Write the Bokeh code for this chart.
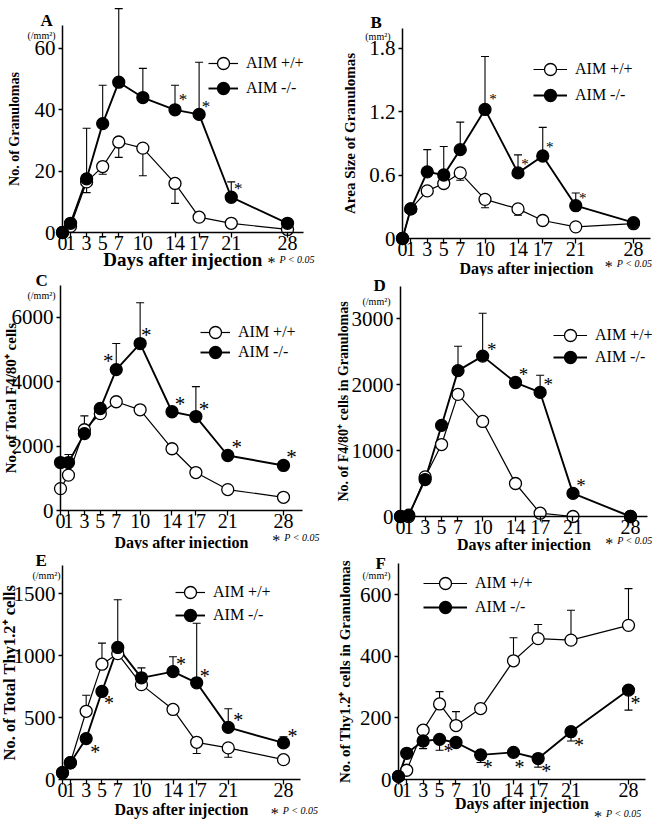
from bokeh.plotting import figure
from bokeh.layouts import row, column
from bokeh.models import (Range1d, FixedTicker, Legend, LegendItem, Whisker, TeeHead,
                          ColumnDataSource, Label)
from bokeh.core.properties import value
from bokeh.embed import file_html
from bokeh.resources import INLINE

SERIF = "Liberation Serif"

# ---------------- data ----------------
days = [0, 1, 3, 5, 7, 10, 14, 17, 21, 28]
day_labels = ["0", "1", "3", "5", "7", "10", "14", "17", "21", "28"]
series_names = ["AIM +/+", "AIM -/-"]
x_title = "Days after injection"
p_note = "P < 0.05"

# A: No. of granulomas
a_wt = [0, 2, 16.5, 21.5, 29.5, 27.5, 16, 5, 3, 1]
a_wt_err = [None, None, 13, 19, 24.5, 18.5, 9.5, None, None, None]
a_ko = [0, 3, 17.5, 35.5, 49, 44, 40, 38.5, 11.5, 3]
a_ko_err = [None, None, 34, 48, 73, 53.5, 48, 55.5, 16.5, None]
a_sig = [14, 17, 21]
a_yticks = [0, 20, 40, 60]
a_ytick_labels = ["0", "20", "40", "60"]

# B: Area size of granulomas
b_wt = [0, 0.28, 0.45, 0.52, 0.62, 0.37, 0.28, 0.17, 0.11, 0.14]
b_wt_err = [None, None, None, None, 0.55, 0.29, 0.22, None, None, None]
b_ko = [0, 0.28, 0.63, 0.60, 0.84, 1.22, 0.62, 0.78, 0.31, 0.15]
b_ko_err = [None, None, 0.84, 0.87, 1.10, 1.72, 0.79, 1.05, 0.43, None]
b_sig = [10, 14, 17, 21]
b_yticks = [0, 0.6, 1.2, 1.8]
b_ytick_labels = ["0", "0.6", "1.2", "1.8"]

# C: Total F4/80+ cells
c_wt = [680, 1100, 2510, 3010, 3380, 3130, 1920, 1180, 650, 410]
c_wt_err = [None, None, 2940, None, None, None, None, None, None, None]
c_ko = [1490, 1490, 2390, 3170, 4380, 5190, 3070, 2920, 1710, 1400]
c_ko_err = [None, 1740, None, None, 5190, 6460, None, 3850, None, None]
c_sig = [7, 10, 14, 17, 21, 28]
c_yticks = [0, 2000, 4000, 6000]
c_ytick_labels = ["0", "2000", "4000", "6000"]

# D: F4/80+ cells in granulomas
d_wt = [0, 0, 600, 1090, 1850, 1440, 500, 50, 0, 0]
d_wt_err = [None] * 10
d_ko = [0, 20, 560, 1380, 2210, 2430, 2030, 1880, 350, 0]
d_ko_err = [None, None, None, None, 2580, 3080, None, 2140, None, None]
d_sig = [10, 14, 17, 21]
d_yticks = [0, 1000, 2000, 3000]
d_ytick_labels = ["0", "1000", "2000", "3000"]

# E: Total Thy1.2+ cells
e_wt = [55, 135, 550, 930, 1015, 765, 565, 300, 255, 160]
e_wt_err = [None, None, 680, 1100, None, None, None, 210, 180, None]
e_ko = [55, 135, 330, 710, 1065, 820, 870, 780, 420, 295]
e_ko_err = [None, None, None, None, 1450, 900, 990, 1260, 570, 345]
e_sig = [3, 5, 14, 17, 21, 28]
e_yticks = [0, 500, 1000, 1500]
e_ytick_labels = ["0", "500", "1000", "1500"]

# F: Thy1.2+ cells in granulomas
f_wt = [10, 30, 160, 245, 175, 230, 385, 457, 452, 500]
f_wt_err = [None, None, None, 285, 220, None, 460, 503, 549, 619]
f_ko = [10, 85, 125, 130, 120, 80, 88, 68, 155, 290]
f_ko_err = [None, None, 100, 95, None, 55, None, 40, 125, 225]
f_sig = [5, 10, 14, 17, 21, 28]
f_yticks = [0, 200, 400, 600]
f_ytick_labels = ["0", "200", "400", "600"]


def add_err(p, vals, errs):
    bx, lo, hi = [], [], []
    for x, v, e in zip(days, vals, errs):
        if e is None:
            continue
        bx.append(x)
        lo.append(min(v, e))
        hi.append(max(v, e))
    if not bx:
        return
    src = ColumnDataSource(dict(base=bx, lower=lo, upper=hi))
    w = Whisker(source=src, base="base", lower="lower", upper="upper",
                line_color="black", line_width=1.1, level="underlay",
                upper_head=TeeHead(size=8, line_width=1.1, line_color="black"),
                lower_head=TeeHead(size=8, line_width=1.1, line_color="black"))
    p.add_layout(w)


def panel(letter, ylabel, unit, yticks, ytick_labels, wt, wt_err, ko, ko_err, sig, g):
    # geometry (page pixels) -> data ranges, so that the whole canvas is the frame
    figL, figT, W, H = g["box"]
    ax, zy, ppd, ppu = g["ax"], g["zy"], g["ppd"], g["ppu"]
    x_range = Range1d((figL - ax) / ppd, (figL + W - ax) / ppd)
    y_range = Range1d(-(figT + H - zy) / ppu, (zy - figT) / ppu)
    x_end = (g["xend"] - ax) / ppd
    y_top = (zy - g["ytop"]) / ppu

    p = figure(width=W, height=H, x_range=x_range, y_range=y_range,
               output_backend="svg", toolbar_location=None,
               min_border_left=0, min_border_right=0,
               min_border_top=0, min_border_bottom=0)
    p.title.visible = False
    p.outline_line_color = None
    p.grid.visible = False

    for axis in (p.xaxis[0], p.yaxis[0]):
        axis.fixed_location = 0
        axis.axis_line_color = "black"
        axis.axis_line_width = 1.5
        axis.major_tick_line_color = "black"
        axis.major_tick_line_width = 1.3
        axis.major_tick_in = 0
        axis.minor_tick_line_color = None
        axis.major_label_text_font = SERIF
        axis.major_label_text_color = "black"
        axis.axis_label_text_font = SERIF
        axis.axis_label_text_font_style = "bold"
        axis.axis_label_text_color = "black"
    xa, ya = p.xaxis[0], p.yaxis[0]
    xa.bounds = (0, x_end)
    xa.ticker = FixedTicker(ticks=days)
    xa.major_label_overrides = {d: l for d, l in zip(days, day_labels)}
    xa.major_tick_out = 5
    xa.major_label_standoff = -2
    xa.major_label_text_font_size = "20px"
    xa.axis_label = x_title
    xa.axis_label_text_font_size = g["xfs"]
    xa.axis_label_standoff = g["xs"]
    ya.bounds = (0, y_top)
    ya.ticker = FixedTicker(ticks=yticks)
    ya.major_label_overrides = {t: l for t, l in zip(yticks, ytick_labels)}
    ya.major_tick_out = 4
    ya.major_label_standoff = 3
    ya.major_label_text_font_size = "21px"
    ya.axis_label = ylabel
    ya.axis_label_text_font_size = g["yfs"]
    ya.axis_label_standoff = g["ys"]

    add_err(p, wt, wt_err)
    add_err(p, ko, ko_err)

    lw = p.line(days, wt, line_color="black", line_width=1.2)
    lk = p.line(days, ko, line_color="black", line_width=1.9)
    sw = p.scatter(days, wt, marker="circle", size=12, fill_color="white",
                   line_color="black", line_width=1.3)
    sk = p.scatter(days, ko, marker="circle", size=12, fill_color="black",
                   line_color="black", line_width=1.3)

    # significance asterisks (attached to the AIM -/- points)
    ko_map = dict(zip(days, ko))
    fs = g["afs"]
    p.text(x=list(sig), y=[ko_map[d] for d in sig], text=["*"] * len(sig),
           x_offset=[o[0] for o in g["aoff"]], y_offset=[-o[1] for o in g["aoff"]],
           text_font=value(SERIF), text_font_size=f"{fs}px", text_color="black",
           text_align="center", text_baseline="alphabetic")

    # legend: one Legend per row so each row sits where the reference has it
    lx, r1, r2 = g["leg"]
    for item, rc in ((LegendItem(label=series_names[0], renderers=[lw, sw]), r1),
                     (LegendItem(label=series_names[1], renderers=[lk, sk]), r2)):
        p.add_layout(Legend(items=[item], location=(lx - figL, figT + H - (rc + 15)),
                            glyph_width=g["gw"], glyph_height=30, label_height=20,
                            spacing=0, padding=0, margin=0, label_standoff=8,
                            label_text_font=SERIF, label_text_font_size="16px",
                            label_text_color="black", border_line_color=None,
                            background_fill_alpha=0))

    p.add_layout(Label(x=0, y=y_top, x_offset=g["let"][0], y_offset=g["let"][1],
                       text=letter, text_font=SERIF, text_font_style="bold",
                       text_font_size="17px", text_color="black",
                       text_align="left", text_baseline="alphabetic"))
    p.add_layout(Label(x=0, y=y_top, x_offset=g["unit"][0], y_offset=g["unit"][1],
                       text=unit, text_font=SERIF, text_font_size="10px",
                       text_color="black", text_align="right", text_baseline="middle"))
    pdx, pdy = g["pv"]
    p.add_layout(Label(x=pdx, y=0, x_offset=0, y_offset=pdy - 2, text="*",
                       text_font=SERIF, text_font_size="16px", text_color="black",
                       text_align="center", text_baseline="alphabetic"))
    p.add_layout(Label(x=pdx, y=0, x_offset=8, y_offset=pdy + 1, text=p_note,
                       text_font=SERIF, text_font_size="10px", text_font_style="italic",
                       text_color="black", text_align="left", text_baseline="middle"))
    return p


# geometry in page pixels (the canvas starts at the top-left of the page)
g_a = dict(box=(0, 0, 333, 270), ax=62, zy=232, ppd=8.036, ppu=3.067, xend=303, ytop=25,
           xs=-4, ys=10, xfs="19px", yfs="14px", afs=17, aoff=[(8, 10), (7, 8), (7, 9)],
           leg=(208, 63, 88), gw=30, let=(-22, 5), unit=(-7, -10), pv=(26.0, -28))
g_b = dict(box=(333, 0, 325, 276), ax=402, zy=238, ppd=8.25, ppu=105.8, xend=650, ytop=28,
           xs=1, ys=8, xfs="16px", yfs="15px", afs=15, aoff=[(8, 10), (7, 9), (7, 9), (7, 8)],
           leg=(533, 69, 95), gw=34, let=(-32, 6), unit=(-12, -8), pv=(25.0, -26))
g_c = dict(box=(0, 270, 333, 279), ax=60, zy=510, ppd=7.964, ppu=0.03217, xend=302, ytop=285,
           xs=3, ys=-10, xfs="16px", yfs="15px", afs=21,
           aoff=[(-8, 9), (6, 9), (8, 8), (8, 8), (9, 8), (8, 8)],
           leg=(200, 332, 352), gw=30, let=(-25, 5), unit=(-5, -10), pv=(27.1, -28))
g_d = dict(box=(333, 276, 325, 275), ax=400, zy=516, ppd=8.214, ppu=0.066, xend=647, ytop=286,
           xs=-1, ys=-2, xfs="16px", yfs="14px", afs=19, aoff=[(9, 7), (8, 8), (8, 8), (8, 8)],
           leg=(553, 335, 357), gw=34, let=(-27, 1), unit=(-10, -15), pv=(25.4, -25))
g_e = dict(box=(0, 549, 333, 278), ax=62, zy=779, ppd=7.893, ppu=0.124, xend=300, ytop=565,
           xs=1, ys=-8, xfs="16px", yfs="16.5px", afs=20,
           aoff=[(9, -13), (7, -12), (8, 8), (8, 7), (10, 7), (9, 7)],
           leg=(175, 592, 615), gw=30, let=(-27, 5), unit=(-2, -10), pv=(26.9, -32))
g_f = dict(box=(333, 551, 325, 276), ax=398, zy=779, ppd=8.214, ppu=0.3083, xend=645, ytop=563,
           xs=-5, ys=4, xfs="16px", yfs="15px", afs=20,
           aoff=[(9, -12), (7, -12), (6, -15), (8, -12), (8, -13), (7, -13)],
           leg=(423, 583, 607), gw=44, let=(-23, 0), unit=(-8, -12), pv=(24.3, -35))

pa = panel("A", "No. of Granulomas", "(/mm²)", a_yticks, a_ytick_labels,
           a_wt, a_wt_err, a_ko, a_ko_err, a_sig, g_a)
pb = panel("B", "Area Size of Granulomas", "(mm²)", b_yticks, b_ytick_labels,
           b_wt, b_wt_err, b_ko, b_ko_err, b_sig, g_b)
pc = panel("C", "No. of Total F4/80⁺ cells", "(/mm²)", c_yticks, c_ytick_labels,
           c_wt, c_wt_err, c_ko, c_ko_err, c_sig, g_c)
pdd = panel("D", "No. of F4/80⁺ cells in Granulomas", "(/mm²)", d_yticks, d_ytick_labels,
            d_wt, d_wt_err, d_ko, d_ko_err, d_sig, g_d)
pe = panel("E", "No. of Total Thy1.2⁺ cells", "(/mm²)", e_yticks, e_ytick_labels,
           e_wt, e_wt_err, e_ko, e_ko_err, e_sig, g_e)
pf = panel("F", "No. of Thy1.2⁺ cells in Granulomas", "(/mm²)", f_yticks, f_ytick_labels,
           f_wt, f_wt_err, f_ko, f_ko_err, f_sig, g_f)

layout = row(column(pa, pc, pe), column(pb, pdd, pf))

open("out.html", "w").write(file_html(layout, INLINE))
